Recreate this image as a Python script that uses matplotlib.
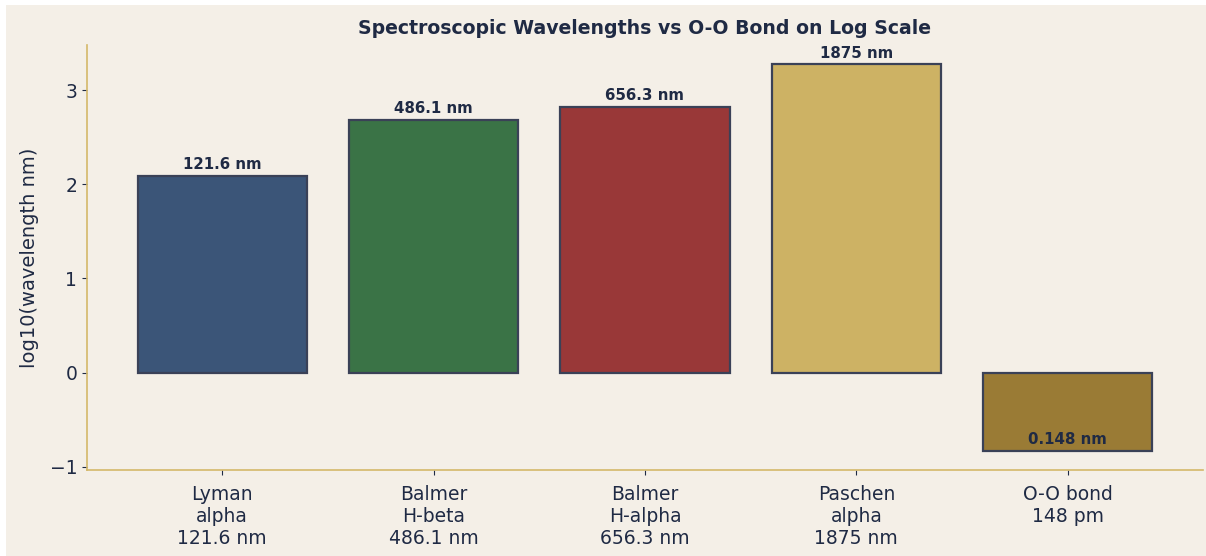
import numpy as np
import matplotlib
matplotlib.use("Agg")
import matplotlib.pyplot as plt
from matplotlib.patches import Rectangle

categories = ["Lyman\nalpha\n121.6 nm", "Balmer\nH-beta\n486.1 nm", "Balmer\nH-alpha\n656.3 nm",
              "Paschen\nalpha\n1875 nm", "O-O bond\n148 pm"]
wavelengths_nm = [121.6, 486.1, 656.3, 1875.0, 0.148]
value_labels = ["121.6 nm", "486.1 nm", "656.3 nm", "1875 nm", "0.148 nm"]
colors = ["#3b5578", "#3a7346", "#993838", "#cdb264", "#9a7b35"]

bg = "#f4efe7"
navy = "#1f2a44"
gold = "#d4b86a"

fig = plt.figure(figsize=(12.06, 5.56), dpi=100, facecolor="white")
fig.patches.append(Rectangle((6/1206, 0), 1 - 6/1206, 1 - 5/556, transform=fig.transFigure,
                             facecolor=bg, edgecolor="none", zorder=-10))
ax = fig.add_axes([87/1206, (556-470)/556, (1203-87)/1206, (470-45)/556])
ax.set_facecolor(bg)

heights = np.log10(wavelengths_nm)
x = np.arange(len(categories))
bars = ax.bar(x, heights, width=0.8, color=colors, edgecolor="#3a4157", linewidth=1.6)

for xi, h, lab in zip(x, heights, value_labels):
    ax.text(xi, h + 0.04, lab, ha="center", va="bottom", fontsize=10.8,
            fontweight="bold", color=navy)

ax.set_xticks(x)
ax.set_xticklabels(categories, fontsize=13.5, color=navy, linespacing=1.2)
ax.set_yticks([-1, 0, 1, 2, 3])
ax.set_yticklabels(["\u22121", "0", "1", "2", "3"])
ax.tick_params(axis="y", labelsize=13.5, colors=navy)
ax.tick_params(axis="x", colors=navy, pad=7)
ax.set_ylabel("log10(wavelength nm)", fontsize=14, color=navy, labelpad=8)
ax.set_title("Spectroscopic Wavelengths vs O-O Bond on Log Scale", fontsize=13.6,
             fontweight="bold", color=navy, pad=8)

for s in ["top", "right"]:
    ax.spines[s].set_visible(False)
for s in ["left", "bottom"]:
    ax.spines[s].set_color(gold)
    ax.spines[s].set_linewidth(1.2)

fig.savefig("out.png", dpi=100, facecolor=fig.get_facecolor())
